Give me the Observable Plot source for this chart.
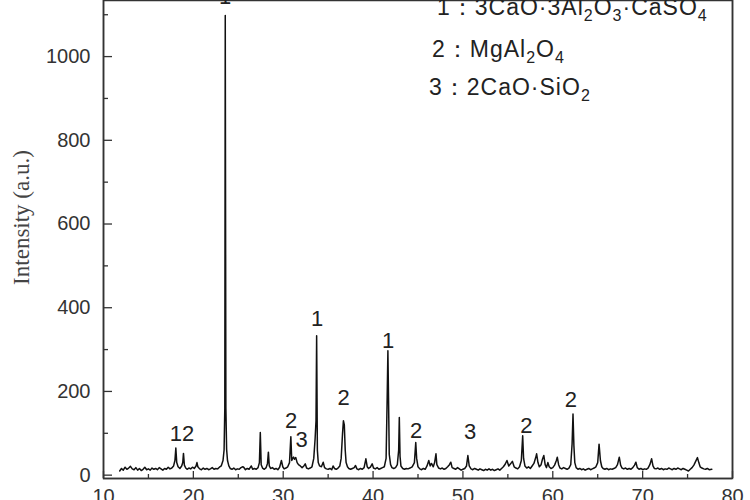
<!DOCTYPE html>
<html>
<head>
<meta charset="utf-8">
<script src="https://cdn.jsdelivr.net/npm/d3@7"></script>
<script src="https://cdn.jsdelivr.net/npm/@observablehq/plot@0.6"></script>
<style>
  html, body { margin: 0; padding: 0; background: white; overflow: hidden; }
</style>
</head>
<body>
<div id="chart"></div>
<script>
// ---- data ----
const twoTheta = [
 11.8,12.0,12.2,12.4,12.6,12.8,13.0,13.2,13.4,13.6,13.8,14.0,14.2,14.4,14.6,14.8,15.0,15.2,15.4,15.6,15.8,16.0,16.2,16.4,16.6,16.8,17.0,17.2,17.4,17.6,17.8,17.95,18.05,18.15,18.3,18.5,18.7,18.82,18.9,19.0,19.15,19.3,19.5,19.7,19.9,20.1,20.3,20.4,20.5,20.7,20.9,21.1,21.3,21.5,21.7,21.9,22.1,22.3,22.5,22.7,22.9,23.1,23.3,23.42,23.5,23.55,23.62,23.7,23.8,23.95,24.1,24.3,24.5,24.7,24.9,25.1,25.3,25.5,25.6,25.8,26.0,26.2,26.45,26.6,26.8,27.0,27.2,27.35,27.45,27.55,27.7,27.9,28.1,28.25,28.35,28.45,28.6,28.8,29.0,29.2,29.4,29.6,29.8,29.95,30.1,30.3,30.5,30.7,30.85,30.95,31.05,31.15,31.25,31.4,31.55,31.7,31.9,32.1,32.3,32.45,32.6,32.8,33.0,33.2,33.4,33.55,33.65,33.72,33.8,33.9,34.05,34.25,34.45,34.6,34.8,35.0,35.2,35.4,35.55,35.7,35.9,36.1,36.3,36.45,36.6,36.7,36.8,36.9,37.0,37.15,37.3,37.5,37.7,37.9,38.05,38.2,38.4,38.6,38.8,39.0,39.2,39.35,39.5,39.7,39.9,40.05,40.25,40.45,40.65,40.85,41.05,41.25,41.45,41.57,41.65,41.72,41.8,41.95,42.1,42.3,42.5,42.7,42.85,42.92,43.0,43.1,43.3,43.5,43.7,43.9,44.1,44.35,44.6,44.75,44.85,45.0,45.2,45.4,45.6,45.8,46.0,46.2,46.35,46.5,46.7,46.85,47.0,47.1,47.3,47.5,47.7,47.9,48.1,48.3,48.5,48.65,48.8,49.0,49.2,49.4,49.6,49.8,50.0,50.2,50.4,50.55,50.7,50.9,51.1,51.3,51.5,51.7,51.9,52.1,52.3,52.5,52.7,52.9,53.1,53.3,53.5,53.7,53.9,54.1,54.3,54.5,54.7,54.9,55.1,55.3,55.5,55.7,55.9,56.1,56.3,56.5,56.65,56.75,56.9,57.1,57.3,57.5,57.7,57.9,58.1,58.2,58.35,58.5,58.7,58.85,59.0,59.15,59.3,59.45,59.6,59.8,60.0,60.2,60.4,60.5,60.65,60.8,61.0,61.2,61.4,61.6,61.8,62.0,62.15,62.25,62.35,62.45,62.6,62.8,63.0,63.2,63.4,63.6,63.8,64.0,64.2,64.4,64.6,64.8,65.0,65.15,65.3,65.45,65.6,65.8,66.0,66.2,66.4,66.6,66.8,67.0,67.2,67.4,67.55,67.7,67.9,68.1,68.3,68.5,68.7,68.9,69.1,69.25,69.4,69.6,69.8,70.0,70.2,70.4,70.6,70.8,71.0,71.15,71.3,71.5,71.7,71.9,72.1,72.3,72.5,72.7,72.9,73.1,73.3,73.5,73.7,73.9,74.1,74.3,74.5,74.7,74.9,75.1,75.3,75.5,75.7,75.9,76.1,76.25,76.4,76.6,76.8,77.0,77.2,77.4,77.7
];
const intensity = [
 10,16,12,19,14,17,21,15,13,18,12,16,11,14,19,13,15,12,17,14,16,13,18,15,12,16,14,19,15,17,22,35,65,30,20,16,22,30,52,24,17,14,17,15,19,16,22,30,20,15,13,17,14,16,13,15,18,14,16,15,19,22,35,60,160,1098,160,62,35,22,16,14,17,13,15,14,18,20,19,13,16,14,22,14,16,14,18,30,102,25,17,14,18,28,55,22,16,18,14,16,13,19,35,20,15,17,20,30,92,35,40,43,38,42,30,25,22,18,22,27,17,15,17,20,40,87,130,333,60,30,22,20,31,18,15,14,16,13,22,16,14,17,22,40,99,130,120,60,30,20,16,14,16,18,23,15,13,16,14,18,39,20,16,19,27,17,15,18,14,16,18,20,40,185,297,185,50,25,18,16,18,25,60,138,45,22,16,14,16,15,17,20,30,78,40,20,15,13,16,14,22,35,22,28,20,30,51,25,17,15,17,14,16,20,25,31,18,16,14,18,15,12,14,16,22,47,22,15,13,16,14,12,15,13,11,14,12,15,12,14,11,13,15,12,16,20,26,35,22,27,33,20,17,15,20,35,94,40,22,17,20,16,22,28,42,51,30,20,25,38,47,25,18,30,20,16,18,24,35,43,25,17,15,18,16,14,17,25,75,146,70,30,18,14,16,13,15,12,14,16,13,15,17,20,30,74,35,20,16,14,16,13,15,14,16,18,25,43,24,17,15,17,14,16,14,18,24,31,18,14,16,13,15,14,17,25,39,22,16,15,17,14,16,13,15,14,17,15,13,16,14,17,15,13,16,14,12,10,14,18,24,33,42,30,20,17,15,14,16,13,14
];
const peakLabels = ["12", "1", "2", "3", "1", "2", "1", "2", "3", "2", "2"];
const peakX =      [18.74, 23.53, 30.88, 32.05, 33.78, 36.73, 41.68, 44.8, 50.8, 57.05, 62.0];
const peakY =      [99, 1143, 130, 84, 374, 185, 321, 106, 104, 118, 180];
const legendItems = ["1\uFF1A3CaO\u00B73Al_2O_3\u00B7CaSO_4", "2\uFF1AMgAl_2O_4", "3\uFF1A2CaO\u00B7SiO_2"];
const xMajor = [10, 20, 30, 40, 50, 60, 70, 80];
const xMinor = [15, 25, 35, 45, 55, 65, 75];
const yMajor = [0, 200, 400, 600, 800, 1000];
const yMinor = [100, 300, 500, 700, 900, 1100];
const xDomain = [10, 80];
const yDomain = [-8, 1134];
const yTitle = "Intensity (a.u.)";

// ---- layout ----
const W = 750, H = 500;
const mL = 103, mR = 18, mT = 0, mB = 22;
const plotW = W - mL - mR, plotH = H - mT - mB;
const axisColor = "#333";

const pattern = twoTheta.map((x, i) => ({x, y: intensity[i]}));
const peaks = peakLabels.map((t, i) => ({t, x: peakX[i], y: peakY[i]}));

const chart = Plot.plot({
  width: W, height: H,
  marginLeft: mL, marginRight: mR, marginTop: mT, marginBottom: mB,
  style: {fontFamily: "'Liberation Sans', Arial, sans-serif", fontSize: "20px", background: "white"},
  x: {domain: xDomain},
  y: {domain: yDomain},
  marks: [
    Plot.frame({stroke: axisColor, strokeWidth: 1.5}),
    Plot.axisX(xMajor, {tickSize: 0, tickPadding: 10, fontSize: 20, label: null, fill: "#333"}),
    Plot.axisY(yMajor, {tickSize: 0, tickPadding: 13, fontSize: 20, label: null, fill: "#333", tickFormat: d => String(d)}),
    Plot.line(pattern, {x: "x", y: "y", stroke: "#111", strokeWidth: 1.5}),
    Plot.text(peaks, {x: "x", y: "y", text: "t", fontSize: 22, fill: "#222", textAnchor: "middle", lineAnchor: "middle"}),
    Plot.text([yTitle], {text: d => d, frameAnchor: "left", rotate: -90, dx: -82, dy: -22,
      fontSize: 23, fill: "#444", fontFamily: "'Liberation Serif', 'Times New Roman', serif", textAnchor: "middle", lineAnchor: "middle"}),
    Plot.ruleX(xDomain, {x: d => d, stroke: axisColor, strokeWidth: 1.5}),
    Plot.ruleY([yDomain[0]], {y: d => d, stroke: axisColor, strokeWidth: 1.5}),
    Plot.tickX(xMajor, {x: d => d, insetTop: plotH - 7, stroke: axisColor, strokeWidth: 1.3}),
    Plot.tickX(xMinor, {x: d => d, insetTop: plotH - 4, stroke: axisColor, strokeWidth: 1.3}),
    Plot.tickY(yMajor, {y: d => d, insetRight: plotW - 9, stroke: axisColor, strokeWidth: 1.3}),
    Plot.tickY(yMinor, {y: d => d, insetRight: plotW - 5, stroke: axisColor, strokeWidth: 1.3})
  ]
});

document.getElementById("chart").appendChild(chart);

// ---- legend (formula text with subscripts) ----
const svg = d3.select(chart);
const legendPos = [[437, 15], [432, 57], [429, 95]];
const lg = svg.append("g")
  .attr("font-family", "'Liberation Sans', Arial, sans-serif")
  .attr("font-size", 23)
  .attr("text-anchor", "start")
  .attr("letter-spacing", "1px")
  .attr("fill", "#222");
legendItems.forEach((s, i) => {
  const t = lg.append("text").attr("x", legendPos[i][0]).attr("y", legendPos[i][1]);
  const parts = s.split(/(_\d)/).filter(p => p);
  let shift = 0;
  parts.forEach(p => {
    if (p.startsWith("_")) {
      t.append("tspan").attr("dy", 6 - shift).attr("font-size", 16).text(p.slice(1));
      shift = 6;
    } else {
      t.append("tspan").attr("dy", -shift).text(p);
      shift = 0;
    }
  });
});
</script>
</body>
</html>
